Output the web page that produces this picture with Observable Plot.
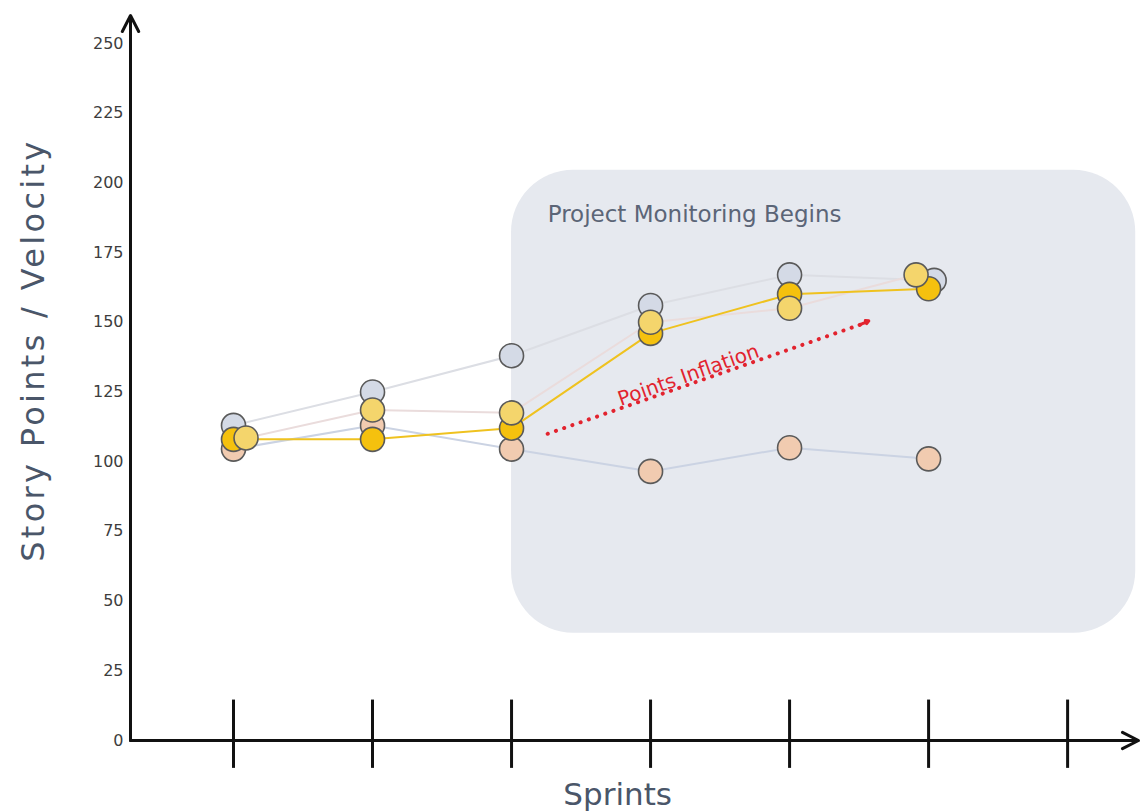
<!DOCTYPE html>
<html>
<head>
<meta charset="utf-8">
<script src="https://cdn.jsdelivr.net/npm/d3@7"></script>
<script src="https://cdn.jsdelivr.net/npm/@observablehq/plot@0.6"></script>
<style>
  html, body { margin: 0; padding: 0; background: #ffffff; }
  #chart svg { display: block; }
</style>
</head>
<body>
<div id="chart"></div>
<script>
// Sprint numbers along the horizontal axis
const sprints = [1, 2, 3, 4, 5, 6];
// Tick marks drawn across the sprint axis (one more than the sprints with data)
const sprintTicks = [1, 2, 3, 4, 5, 6, 7];
// Y-axis tick labels
const yTicks = [0, 25, 50, 75, 100, 125, 150, 175, 200, 225, 250];

// Story points per sprint, one array per series
const committed   = [113, 125, 138, 156, 167, 165];
const delivered   = [104.5, 113, 104.5, 96.5, 105, 101];
const velocity    = [108, 108, 112, 146, 160, 162];
const estimated   = [108.5, 118.5, 117.5, 150, 155, 167];

// Small horizontal spread (in sprints) so overlapping markers stay visible
const committedSpread = [0, 0, 0, 0, 0, 0.04];
const estimatedSpread = [0.09, 0, 0, 0, 0, -0.09];

// Annotation texts
const monitoringLabel = "Project Monitoring Begins";
const inflationLabel = "Points Inflation";
const xLabel = "Sprints";
const yLabel = "Story Points / Velocity";

// Build tidy rows for each series
const rows = (values, spread) => sprints.map((s, i) => ({
  sprint: s + (spread ? spread[i] : 0),
  value: values[i]
}));

const committedRows = rows(committed, committedSpread);
const deliveredRows = rows(delivered);
const velocityRows = rows(velocity);
const estimatedRows = rows(estimated, estimatedSpread);

const font = "'DejaVu Sans', Verdana, sans-serif";
const ink = "#4a5669";
const red = "#e2232e";
const dotStroke = "#5a5a5a";
const r = 12;

const chart = Plot.plot({
  width: 1140,
  height: 812,
  style: { fontFamily: font, background: "#ffffff", overflow: "visible" },
  x: { domain: [0.259, 7.51], range: [130, 1138], axis: null },
  y: { domain: [0, 260], range: [740, 15], axis: null },
  marks: [
    // Shaded "monitoring" phase panel
    Plot.rect([{ x1: 3, x2: 7.49, y1: 38.5, y2: 204.5 }], {
      x1: "x1", x2: "x2", y1: "y1", y2: "y2",
      fill: "#e6e9ef", rx: 62
    }),
    Plot.text([monitoringLabel], {
      x: 3.26, y: 188.5, text: d => d, textAnchor: "start",
      fontSize: 23, fill: "#5b6577"
    }),

    // Y tick labels
    Plot.text(yTicks, {
      x: 0.259, y: d => d, text: d => String(d), textAnchor: "end",
      dx: -7, fontSize: 16, fill: "#3d3d3d"
    }),

    // Connecting lines (drawn under the markers)
    Plot.line(committedRows, { x: "sprint", y: "value", stroke: "#dcdee4", strokeWidth: 2 }),
    Plot.line(estimatedRows, { x: "sprint", y: "value", stroke: "#eadcdc", strokeWidth: 2 }),
    Plot.line(deliveredRows, { x: "sprint", y: "value", stroke: "#cbd3e3", strokeWidth: 2 }),
    Plot.line(velocityRows, { x: "sprint", y: "value", stroke: "#efc21f", strokeWidth: 2 }),

    // Points inflation trend arrow
    Plot.link([{ x1: 3.26, y1: 110, x2: 5.53, y2: 149.5 }], {
      x1: "x1", y1: "y1", x2: "x2", y2: "y2",
      stroke: red, strokeWidth: 4, strokeDasharray: "0.1,8.6", strokeLinecap: "round"
    }),
    Plot.arrow([{ x1: 5.5, y1: 149, x2: 5.57, y2: 150.5 }], {
      x1: "x1", y1: "y1", x2: "x2", y2: "y2",
      stroke: red, strokeWidth: 3, headLength: 5, bend: 0
    }),
    Plot.text([inflationLabel], {
      x: 4.273, y: 131, text: d => d, rotate: -19.5,
      fontSize: 20, fill: red
    }),

    // Markers
    Plot.dot(deliveredRows, { x: "sprint", y: "value", r, fill: "#f1cbb0", stroke: dotStroke, strokeWidth: 1.6 }),
    Plot.dot(committedRows, { x: "sprint", y: "value", r, fill: "#d4dae6", stroke: dotStroke, strokeWidth: 1.6 }),
    Plot.dot(velocityRows, { x: "sprint", y: "value", r, fill: "#f5c10e", stroke: dotStroke, strokeWidth: 1.6 }),
    Plot.dot(estimatedRows, { x: "sprint", y: "value", r, fill: "#f4d56c", stroke: dotStroke, strokeWidth: 1.6 }),

    // Sprint tick marks crossing the baseline
    Plot.ruleX(sprintTicks, { x: d => d, y1: -10, y2: 14.5, stroke: "#111", strokeWidth: 3 }),

    // Axis lines with arrowheads
    Plot.arrow([{ x1: 0.259, y1: 0, x2: 7.51, y2: 0 }], {
      x1: "x1", y1: "y1", x2: "x2", y2: "y2",
      stroke: "#111", strokeWidth: 3, headLength: 9, headAngle: 54, bend: 0
    }),
    Plot.arrow([{ x1: 0.259, y1: 0, x2: 0.259, y2: 260 }], {
      x1: "x1", y1: "y1", x2: "x2", y2: "y2",
      stroke: "#111", strokeWidth: 3, headLength: 9, headAngle: 54, bend: 0
    }),

    // Axis titles
    Plot.text([xLabel], {
      x: 3.763, y: -19.5, text: d => d, fontSize: 31, fill: ink
    }),
    Plot.text([yLabel], {
      x: -0.44, y: 140, text: d => d, rotate: -90, fontSize: 32, fill: ink,
      className: "y-title"
    })
  ]
});

// The vertical title is set a little wider than the default tracking
chart.querySelectorAll(".y-title text").forEach(t => t.setAttribute("letter-spacing", "3.3"));

document.getElementById("chart").appendChild(chart);
</script>
</body>
</html>
